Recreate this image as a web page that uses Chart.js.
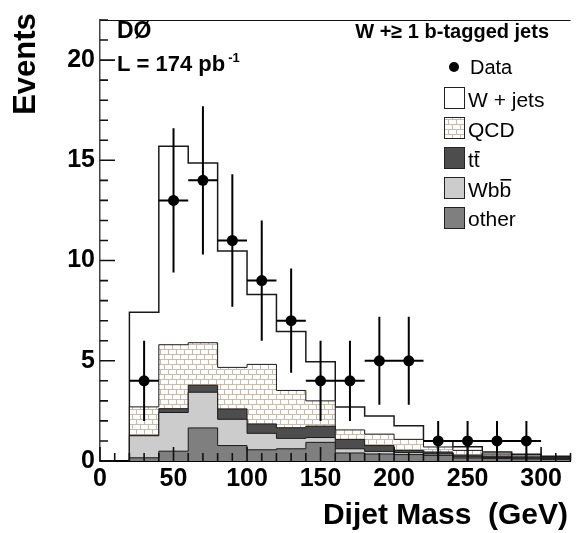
<!DOCTYPE html>
<html lang="en">
<head>
<meta charset="UTF-8">
<title>Dijet Mass - W + b-tagged jets</title>
<script src="https://cdn.jsdelivr.net/npm/chart.js"></script>
<style>
  body { margin: 0; background: #fff; }
  .chart-box { width: 576px; height: 533px; position: relative; }
</style>
</head>
<body>
<div class="chart-box"><canvas id="massChart"></canvas></div>
<script>
// bin edges (GeV), 20 GeV bins
const binEdges = [20, 40, 60, 80, 100, 120, 140, 160, 180, 200, 220, 240, 260, 280, 300, 320];

// per-process expectations, one value per bin (bottom of stack first)
const otherVals = [0.16, 0.49, 1.65, 0.77, 0.56, 0.61, 0.93, 0.40, 0.35, 0.32, 0.28, 0.15, 0.12, 0.10, 0.08];
const wbbVals   = [1.10, 1.93, 1.78, 1.31, 0.82, 0.52, 0.24, 0.21, 0.13, 0.10, 0.07, 0.05, 0.05, 0.04, 0.02];
const ttVals    = [0.02, 0.19, 0.35, 0.52, 0.47, 0.53, 0.57, 0.47, 0.29, 0.11, 0.10, 0.09, 0.08, 0.06, 0.05];
const qcdVals   = [1.42, 3.19, 2.12, 2.07, 2.97, 1.86, 1.26, 0.47, 0.57, 0.55, 0.25, 0.24, 0.10, 0.05, 0.03];
const wjetsVals = [4.72, 9.90, 8.96, 5.81, 3.48, 2.94, 1.95, 1.14, 0.90, 0.68, 0.31, 0.18, 0.10, 0.09, 0.06];

// data points
const dataX   = [30, 50, 70, 90, 110, 130, 150, 170, 190, 210, 230, 250, 270, 290];
const dataY   = [4, 13, 14, 11, 9, 7, 4, 4, 5, 5, 1, 1, 1, 1];
const dataErr = [2.0, 3.6, 3.7, 3.3, 3.0, 2.6, 2.0, 2.0, 2.2, 2.2, 1.0, 1.0, 1.0, 1.0];
const halfBin = 10;

const xTickValues = [0, 50, 100, 150, 200, 250, 300];
const yTickValues = [0, 5, 10, 15, 20];

const FONT = '"Liberation Sans", Arial, Helvetica, sans-serif';

// cumulative tops for the stacked histogram
function stackUp(layers) {
    const out = [];
    let run = layers[0].map(() => 0);
    layers.forEach(l => {
        run = run.map((v, i) => v + l[i]);
        out.push(run.slice());
    });
    return out;
}
const [otherTop, wbbTop, ttTop, qcdTop, wjetsTop] =
    stackUp([otherVals, wbbVals, ttVals, qcdVals, wjetsVals]);

function stepPoints(tops) {
    const pts = [{ x: binEdges[0], y: 0 }];
    tops.forEach((t, i) => pts.push({ x: binEdges[i], y: t }));
    pts.push({ x: binEdges[binEdges.length - 1], y: tops[tops.length - 1] });
    return pts;
}

function errorPoints() {
    const pts = [];
    dataX.forEach((x, i) => {
        const y = dataY[i], e = dataErr[i];
        pts.push({ x: x, y: Math.max(0, y - e) }, { x: x, y: y + e }, { x: x, y: null });
        pts.push({ x: x - halfBin, y: y }, { x: x + halfBin, y: y }, { x: x, y: null });
    });
    return pts;
}

const canvas = document.getElementById('massChart');
const ctx = canvas.getContext('2d');

function brickPattern() {
    const c = document.createElement('canvas');
    c.width = 8; c.height = 10;
    const g = c.getContext('2d');
    g.fillStyle = '#ffffff';
    g.fillRect(0, 0, 8, 10);
    g.fillStyle = '#c9bbad';
    g.fillRect(0, 4, 8, 1);
    g.fillRect(0, 9, 8, 1);
    g.fillRect(0, 0, 1, 4);
    g.fillRect(4, 5, 1, 4);
    return ctx.createPattern(c, 'repeat');
}
const qcdFill = brickPattern();

const colors = {
    other: '#7f7f7f',
    wbb: '#cccccc',
    tt: '#4d4d4d'
};

function histSet(label, tops, fill, order, lineW) {
    return {
        label: label,
        data: stepPoints(tops),
        stepped: true,
        fill: 'origin',
        backgroundColor: fill,
        borderColor: '#1a1a1a',
        borderWidth: lineW || 1,
        pointRadius: 0,
        order: order
    };
}

// inward ticks + top frame line
const frameTicks = {
    id: 'frameTicks',
    afterDatasetsDraw(chart) {
        const c = chart.ctx, a = chart.chartArea;
        const xs = chart.scales.x, ys = chart.scales.y;
        c.save();
        c.strokeStyle = '#111';
        c.lineWidth = 1.6;
        c.beginPath();
        for (let v = 0; v <= 22; v++) {
            const py = ys.getPixelForValue(v);
            const len = v % 5 === 0 ? 15 : 8;
            c.moveTo(a.left, py);
            c.lineTo(a.left + len, py);
        }
        for (let v = 0; v <= 320; v += 10) {
            const px = xs.getPixelForValue(v);
            const len = v % 50 === 0 ? 14 : 8;
            c.moveTo(px, a.bottom);
            c.lineTo(px, a.bottom - len);
        }
        c.stroke();
        c.lineWidth = 1.2;
        c.beginPath();
        c.moveTo(a.left, a.top + 0.5);
        c.lineTo(a.right, a.top + 0.5);
        c.stroke();
        c.restore();
    }
};

function barText(c, base, barred, x, y, fs, barDy) {
    c.fillText(base, x, y);
    const w0 = c.measureText(base).width;
    c.fillText(barred, x + w0, y);
    const w1 = c.measureText(barred).width;
    c.fillRect(x + w0 + 1, y - barDy, w1 - 1, 1.6);
}

const labelsPlugin = {
    id: 'labelsPlugin',
    afterDraw(chart) {
        const c = chart.ctx;
        c.save();
        c.fillStyle = '#000';
        c.textBaseline = 'alphabetic';

        // axis titles
        c.font = 'bold 30px ' + FONT;
        c.textAlign = 'right';
        c.fillText('Dijet Mass  (GeV)', 568, 524);
        c.save();
        c.translate(35, 64);
        c.rotate(-Math.PI / 2);
        c.textAlign = 'center';
        c.font = 'bold 31px ' + FONT;
        c.fillText('Events', 0, 0);
        c.restore();

        // experiment label
        c.textAlign = 'left';
        c.font = 'bold 23px ' + FONT;
        c.fillText('DØ', 117, 38);
        c.font = 'bold 22px ' + FONT;
        c.fillText('L = 174 pb', 117, 71);
        const lw = c.measureText('L = 174 pb').width;
        c.font = 'bold 13px ' + FONT;
        c.fillText('-1', 117 + lw + 3, 62);

        // legend
        c.font = 'bold 20px ' + FONT;
        c.textAlign = 'right';
        c.fillText('W +\u2265 1 b-tagged jets', 549, 38);
        c.textAlign = 'left';

        c.beginPath();
        c.arc(454, 67, 5, 0, Math.PI * 2);
        c.fill();
        c.font = '20px ' + FONT;
        c.fillText('Data', 470, 74);

        const boxX = 444, boxW = 20, boxH = 21, textX = 468;
        const items = [
            { fill: '#ffffff', top: 87 },
            { fill: qcdFill, top: 117 },
            { fill: colors.tt, top: 147 },
            { fill: colors.wbb, top: 177 },
            { fill: colors.other, top: 207 }
        ];
        items.forEach(it => {
            c.fillStyle = it.fill;
            c.fillRect(boxX, it.top, boxW, boxH);
            c.strokeStyle = '#222';
            c.lineWidth = 1;
            c.strokeRect(boxX + 0.5, it.top + 0.5, boxW, boxH);
        });
        c.fillStyle = '#000';
        c.font = '21px ' + FONT;
        c.fillText('W + jets', textX, 107);
        c.fillText('QCD', textX, 137);
        barText(c, 't', 't', textX, 167, 21, 16);
        barText(c, 'Wb', 'b', textX, 197, 21, 18);
        c.fillText('other', textX, 226);
        c.restore();
    }
};

new Chart(ctx, {
    type: 'line',
    data: {
        datasets: [
            {
                label: 'Data',
                data: dataX.map((x, i) => ({ x: x, y: dataY[i] })),
                showLine: false,
                pointRadius: 5.5,
                pointBackgroundColor: '#000',
                pointBorderColor: '#000',
                pointBorderWidth: 0,
                order: 0
            },
            {
                label: 'errors',
                data: errorPoints(),
                spanGaps: false,
                borderColor: '#000',
                borderWidth: 2,
                pointRadius: 0,
                fill: false,
                order: 1
            },
            histSet('other', otherTop, colors.other, 2),
            histSet('Wbb', wbbTop, colors.wbb, 3),
            histSet('tt', ttTop, colors.tt, 4),
            histSet('QCD', qcdTop, qcdFill, 5),
            histSet('W + jets', wjetsTop, '#ffffff', 6, 1.5)
        ]
    },
    options: {
        responsive: true,
        maintainAspectRatio: false,
        animation: false,
        layout: { padding: { top: 7, right: 0, left: 0, bottom: 0 } },
        plugins: {
            legend: { display: false },
            tooltip: { enabled: false },
            title: { display: false }
        },
        scales: {
            x: {
                type: 'linear',
                min: 0,
                max: 320,
                afterBuildTicks: s => { s.ticks = xTickValues.map(v => ({ value: v })); },
                afterFit: s => { s.height = 72; },
                grid: { display: false, drawTicks: false },
                border: { display: true, color: '#000', width: 2 },
                ticks: {
                    color: '#000',
                    padding: 3,
                    maxRotation: 0,
                    autoSkip: false,
                    font: { family: FONT, size: 25, weight: 'bold' }
                }
            },
            y: {
                type: 'linear',
                min: 0,
                max: 22,
                afterBuildTicks: s => { s.ticks = yTickValues.map(v => ({ value: v })); },
                afterFit: s => { s.width = 100; },
                grid: { display: false, drawTicks: false },
                border: { display: true, color: '#444', width: 1.5 },
                ticks: {
                    color: '#000',
                    padding: 5,
                    autoSkip: false,
                    font: { family: FONT, size: 25, weight: 'bold' }
                }
            }
        }
    },
    plugins: [frameTicks, labelsPlugin]
});
</script>
</body>
</html>
